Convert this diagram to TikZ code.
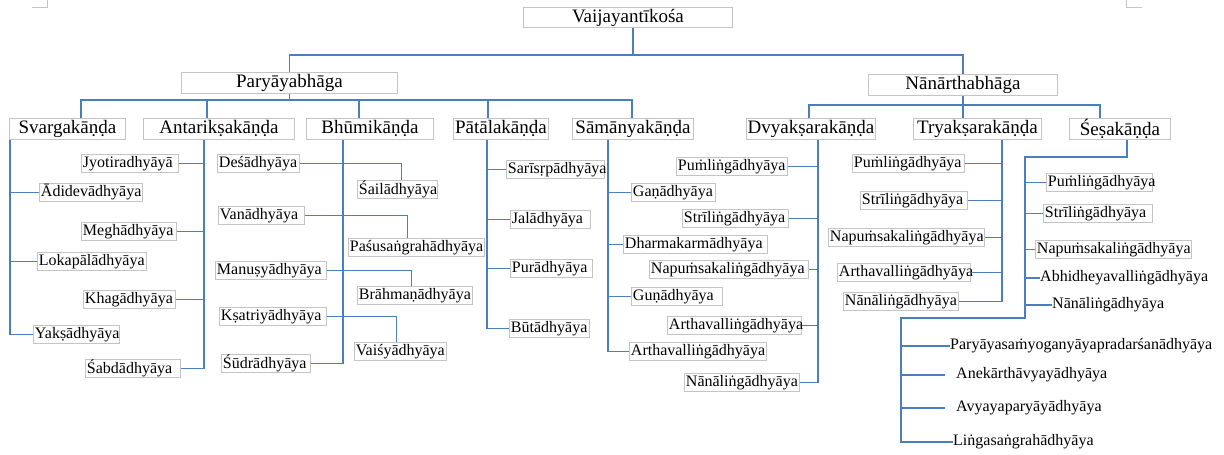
\documentclass[tikz,border=0pt]{standalone}
\usepackage{fontspec}
\setmainfont{Liberation Serif}
\definecolor{lnk}{RGB}{74,126,190}
\definecolor{bord}{RGB}{196,196,196}
\tikzset{
 conn/.style={draw=lnk, line width=1.1pt},
 headbox/.style={draw=bord, line width=0.9pt, inner sep=0pt, font=\fontsize{19}{22}\selectfont, anchor=north west},
 leafbox/.style={draw=bord, line width=0.9pt, inner xsep=1.5pt, inner ysep=0pt, font=\fontsize{16}{19}\selectfont, anchor=north west, align=left},
 plaintext/.style={inner sep=0pt, font=\fontsize{16}{19}\selectfont, anchor=west},
 cropmark/.style={draw=bord, line width=0.8pt}
}
\newcommand\headnode[6]{\pgfmathsetmacro\mybw{#4-#2}\pgfmathsetmacro\mybh{#5-#3}%
 \node[headbox, minimum width=\mybw pt, minimum height=\mybh pt] (#1) at (#2,#3) {#6};}
\newcommand\leafnode[6]{\pgfmathsetmacro\mybh{#5-#3}\pgfmathsetmacro\mytw{#4-#2-3}%
 \node[leafbox, text width=\mytw pt, minimum height=\mybh pt] (#1) at (#2,#3) {\mbox{#6}};}
\begin{document}
\begin{tikzpicture}[x=1pt,y=-1pt]
\useasboundingbox (0,0) rectangle (1224,455);
% crop marks
\draw[cropmark] (32,7) -- (47,7) -- (47,0);
\draw[cropmark] (1126,0) -- (1126,7) -- (1142,7);
% headings
\headnode{vai}{523}{7}{732}{27}{Vaijayantīkośa}
\headnode{par}{181}{72}{397}{93}{Paryāyabhāga}
\headnode{nan}{868}{74}{1057}{95}{Nānārthabhāga}
\headnode{svg}{9}{118}{125}{139}{Svargakāṇḍa}
\headnode{ant}{143}{118}{294}{139}{Antarikṣakāṇḍa}
\headnode{bhu}{306}{118}{433}{139}{Bhūmikāṇḍa}
\headnode{pat}{453}{118}{548}{139}{Pātālakāṇḍa}
\headnode{sam}{572}{118}{693}{139}{Sāmānyakāṇḍa}
\headnode{dvy}{746}{118}{875}{139}{Dvyakṣarakāṇḍa}
\headnode{try}{913}{118}{1041}{139}{Tryakṣarakāṇḍa}
\headnode{ses}{1069}{118}{1170}{139}{Śeṣakāṇḍa}
% Svarga
\leafnode{adi}{39}{183}{142}{201}{Ādidevādhyāya}
\leafnode{lok}{37}{252}{146}{270}{Lokapālādhyāya}
\leafnode{yak}{33}{325}{119}{343}{Yakṣādhyāya}
% Antariksa
\leafnode{jyo}{81}{154}{178}{172}{Jyotiradhyāyā}
\leafnode{meg}{81}{222}{176}{240}{Meghādhyāya}
\leafnode{kha}{83}{290}{175}{308}{Khagādhyāya}
\leafnode{sab}{85}{359}{180}{377}{Śabdādhyāya}
% Bhumi
\leafnode{des}{217}{154}{299}{172}{Deśādhyāya}
\leafnode{sai}{357}{180}{437}{198}{Śailādhyāya}
\leafnode{van}{218}{206}{304}{224}{Vanādhyāya}
\leafnode{pas}{348}{238}{484}{256}{Paśusaṅgrahādhyāya}
\leafnode{man}{215}{261}{326}{279}{Manuṣyādhyāya}
\leafnode{bra}{357}{286}{472}{304}{Brāhmaṇādhyāya}
\leafnode{ksa}{219}{307}{326}{325}{Kṣatriyādhyāya}
\leafnode{vais}{354}{342}{446}{360}{Vaiśyādhyāya}
\leafnode{sud}{221}{354}{310}{372}{Śūdrādhyāya}
% Patala
\leafnode{sar}{506}{160}{604}{178}{Sarīsṛpādhyāya}
\leafnode{jal}{510}{210}{590}{228}{Jalādhyāya}
\leafnode{pur}{510}{259}{592}{277}{Purādhyāya}
\leafnode{but}{509}{319}{589}{337}{Būtādhyāya}
% Samanya
\leafnode{gan}{631}{183}{715}{201}{Gaṇādhyāya}
\leafnode{dha}{623}{235}{767}{253}{Dharmakarmādhyāya}
\leafnode{gun}{631}{287}{722}{305}{Guṇādhyāya}
\leafnode{art}{629}{342}{766}{360}{Arthavalliṅgādhyāya}
% Dvyaksara
\leafnode{dpu}{676}{157}{787}{175}{Puṁliṅgādhyāya}
\leafnode{dst}{682}{209}{788}{227}{Strīliṅgādhyāya}
\leafnode{dna}{649}{260}{808}{278}{Napuṁsakaliṅgādhyāya}
\leafnode{dar}{667}{316}{801}{334}{Arthavalliṅgādhyāya}
\leafnode{dnn}{684}{373}{799}{391}{Nānāliṅgādhyāya}
% Tryaksara
\leafnode{tpu}{852}{154}{964}{172}{Puṁliṅgādhyāya}
\leafnode{tst}{860}{191}{967}{209}{Strīliṅgādhyāya}
\leafnode{tna}{828}{228}{984}{246}{Napuṁsakaliṅgādhyāya}
\leafnode{tar}{837}{263}{970}{281}{Arthavalliṅgādhyāya}
\leafnode{tnn}{843}{292}{958}{310}{Nānāliṅgādhyāya}
% Sesa
\leafnode{spu}{1046}{173}{1152}{191}{Puṁliṅgādhyāya}
\leafnode{sst}{1043}{204}{1152}{222}{Strīliṅgādhyāya}
\leafnode{sna}{1035}{240}{1191}{258}{Napuṁsakaliṅgādhyāya}
\node[plaintext] (sab2) at (1040,278) {Abhidheyavalliṅgādhyāya};
\node[plaintext] (snn) at (1052,305) {Nānāliṅgādhyāya};
\node[plaintext] (spa) at (950,346) {Paryāyasaṁyoganyāyapradarśanādhyāya};
\node[plaintext] (san) at (956,375) {Anekārthāvyayādhyāya};
\node[plaintext] (sav) at (956,408) {Avyayaparyāyādhyāya};
\node[plaintext] (sli) at (953,442) {Liṅgasaṅgrahādhyāya};
% top connectors
\coordinate (top) at (633,55);
\draw[conn] (top |- vai.south) -- (top);
\draw[conn] (par.north) |- (top) -| (nan.north);
% Paryaya bus
\coordinate (pb1) at (81,100);
\coordinate (pb2) at (207,100);
\coordinate (pb3) at (359,100);
\coordinate (pb4) at (488,100);
\coordinate (pb5) at (632,100);
\draw[conn] (par.south) -- (par.south |- pb1);
\draw[conn] (pb1 |- svg.north) -- (pb1) -- (pb5) -- (pb5 |- sam.north);
\draw[conn] (pb2) -- (pb2 |- ant.north);
\draw[conn] (pb3) -- (pb3 |- bhu.north);
\draw[conn] (pb4) -- (pb4 |- pat.north);
% Nanartha bus
\coordinate (nb1) at (809,105);
\coordinate (nb2) at (963,105);
\coordinate (nb3) at (1100,105);
\draw[conn] (nan.south) -- (nan.south |- nb1);
\draw[conn] (nb1 |- dvy.north) -- (nb1) -- (nb3) -- (nb3 |- ses.north);
\draw[conn] (nb2) -- (nb2 |- try.north);
% trunks
\coordinate (t1) at (10,0);
\coordinate (t2) at (204,0);
\coordinate (t3) at (343,0);
\coordinate (t4) at (487,0);
\coordinate (t5) at (608,0);
\coordinate (t6) at (818,0);
\coordinate (t7) at (1002,0);
\foreach \n in {adi,lok,yak} \draw[conn] (t1 |- svg.south) |- (\n.west);
\foreach \n in {jyo,meg,kha,sab} \draw[conn] (t2 |- ant.south) |- (\n.east);
\draw[conn] (t3 |- bhu.south) |- (sud.east);
\draw[conn] (des.east) -| ([xshift=4pt]sai.north);
\draw[conn] (van.east) -| ([xshift=-9pt]pas.north);
\draw[conn] (man.east) -| ([xshift=-3.5pt]bra.north);
\draw[conn] (ksa.east) -| ([xshift=-4pt]vais.north);
\foreach \n in {sar,jal,pur,but} \draw[conn] (t4 |- pat.south) |- (\n.west);
\foreach \n in {gan,dha,gun,art} \draw[conn] (t5 |- sam.south) |- (\n.west);
\foreach \n in {dpu,dst,dna,dar,dnn} \draw[conn] (t6 |- dvy.south) |- (\n.east);
\foreach \n in {tpu,tst,tna,tar,tnn} \draw[conn] (t7 |- try.south) |- (\n.east);
% Sesa
\coordinate (s1) at (1127,157);
\coordinate (s2) at (1025,157);
\coordinate (s3) at (1025,318);
\coordinate (s4) at (901,318);
\draw[conn] (s1 |- ses.south) -- (s1) -- (s2) -- (s3) -- (s4) -- (s4 |- sli.west) -- (sli.west);
\foreach \n in {spu,sst,sna,sab2,snn} \draw[conn] (s2) |- (\n.west);
\draw[conn] (s4) |- (spa.west);
\draw[conn] (s4) |- ([xshift=-11pt]san.west);
\draw[conn] (s4) |- ([xshift=-11pt]sav.west);
\end{tikzpicture}
\end{document}
